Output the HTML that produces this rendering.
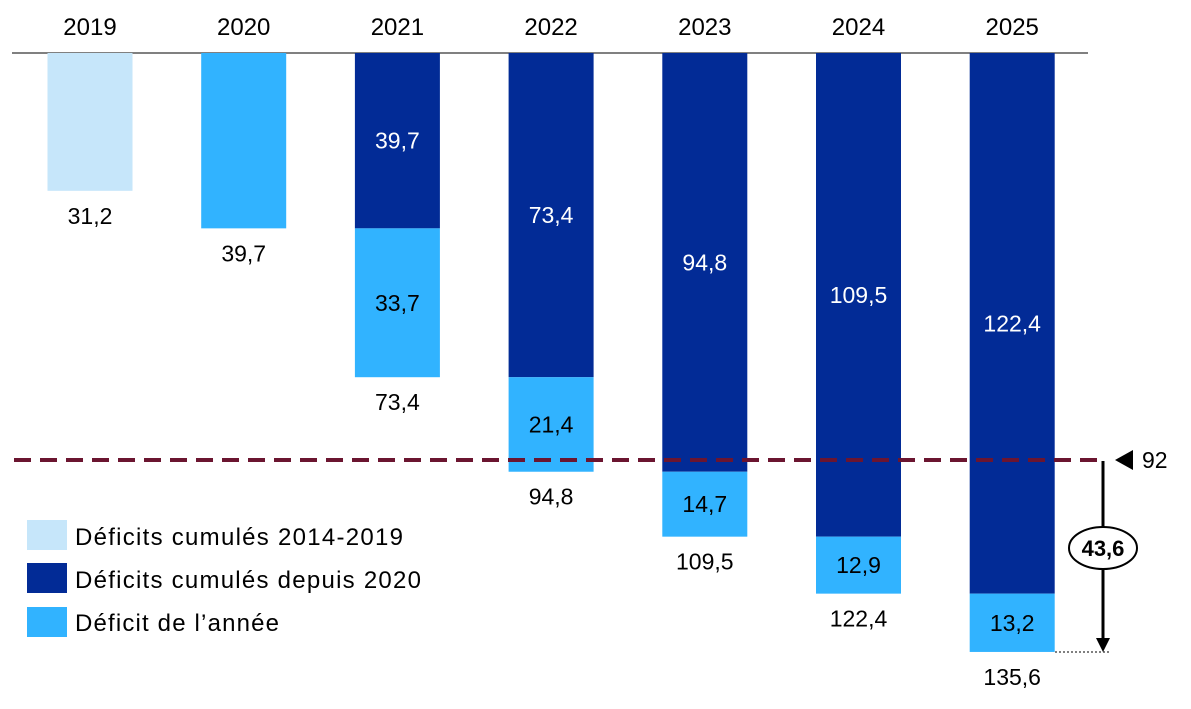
<!DOCTYPE html>
<html><head><meta charset="utf-8"><style>
body{margin:0;background:#fff;}
svg{display:block;font-family:"Liberation Sans",Calibri,sans-serif;}
</style></head><body>
<svg id="chart" width="1191" height="709" viewBox="0 0 1191 709">
<line x1="12" y1="53" x2="1088" y2="53" stroke="#000" stroke-width="1"/>
<g id="bars"></g>
<line x1="14" y1="460" x2="1098" y2="460" stroke="#6b1530" stroke-width="4" stroke-dasharray="17,9"/>
<polygon points="1115,460 1133,450 1133,470" fill="#000"/>
<text x="1142" y="468" font-size="23">92</text>
<line x1="1055" y1="652" x2="1110" y2="652" stroke="#000" stroke-width="1" stroke-dasharray="2,2"/>
<line x1="1103" y1="461" x2="1103" y2="640" stroke="#000" stroke-width="3"/>
<polygon points="1096,638 1110,638 1103,652" fill="#000"/>
<ellipse cx="1103" cy="548" rx="34" ry="21" fill="#fff" stroke="#000" stroke-width="2"/>
<text x="1103" y="556" font-size="22" font-weight="bold" text-anchor="middle">43,6</text>
<g>
<rect x="27" y="520" width="40" height="30" fill="#c6e6fa"/>
<text x="75" y="545" font-size="24" textLength="328">Déficits cumulés 2014-2019</text>
<rect x="27" y="563" width="40" height="30" fill="#022b96"/>
<text x="75" y="588" font-size="24" textLength="346">Déficits cumulés depuis 2020</text>
<rect x="27" y="607" width="40" height="30" fill="#31b3ff"/>
<text x="75" y="631" font-size="24" textLength="204">Déficit de l’année</text>
</g>
</svg>
<script>
const years=["2019","2020","2021","2022","2023","2024","2025"];
const cumulBefore=[31.2,0,0,0,0,0,0];
const cumulSince=[0,0,39.7,73.4,94.8,109.5,122.4];
const yearDeficit=[0,39.7,33.7,21.4,14.7,12.9,13.2];
const totals=["31,2","39,7","73,4","94,8","109,5","122,4","135,6"];
const top0=53, k=4.417;
function y(v){return top0+v*k;}
function xc(i){return 90+i*153.7;}
const g=document.getElementById('bars');
const NS="http://www.w3.org/2000/svg";
function fmt(v){return v.toFixed(1).replace('.',',');}
years.forEach((yr,i)=>{
  const t=document.createElementNS(NS,'text');
  t.setAttribute('x',xc(i));t.setAttribute('y',35);t.setAttribute('font-size','24');t.setAttribute('text-anchor','middle');
  
  
  t.textContent=yr;g.appendChild(t);
  let base=0;
  const hasDark=cumulSince[i]>0;
  const segs=[[cumulBefore[i],'#c6e6fa','cumul-2014-2019',false],[cumulSince[i],'#022b96','cumul-since-2020',true],[yearDeficit[i],'#31b3ff','year-deficit',false]];
  segs.forEach(s=>{
    const v=s[0]; if(!v) return;
    const r=document.createElementNS(NS,'rect');
    r.setAttribute('x',xc(i)-42.5);r.setAttribute('width',85);
    r.setAttribute('y',y(base));r.setAttribute('height',v*k);r.setAttribute('fill',s[1]);
    
    
    g.appendChild(r);
    if(hasDark){
      const l=document.createElementNS(NS,'text');
      l.setAttribute('x',xc(i));l.setAttribute('y',y(base+v/2)+8);l.setAttribute('font-size','23');
      l.setAttribute('text-anchor','middle');l.setAttribute('fill',s[3]?'#fff':'#000');
      
      
      l.textContent=fmt(v);g.appendChild(l);
    }
    base+=v;
  });
  const tl=document.createElementNS(NS,'text');
  tl.setAttribute('x',xc(i));tl.setAttribute('y',y(base)+33);tl.setAttribute('font-size','23');tl.setAttribute('text-anchor','middle');
  
  
  tl.textContent=totals[i];g.appendChild(tl);
});
</script>
</body></html>
